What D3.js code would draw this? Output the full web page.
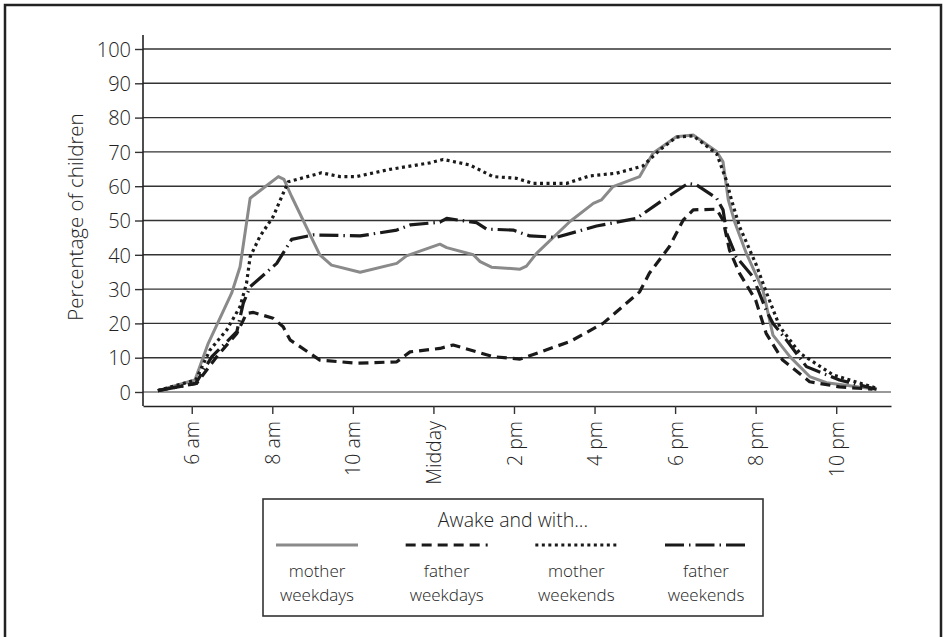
<!DOCTYPE html>
<html>
<head>
<meta charset="utf-8">
<script src="https://cdn.jsdelivr.net/npm/d3@7"></script>
<style>
  body { margin: 0; background: #fff; }
  svg text { font-family: "Open Sans", "Noto Sans", sans-serif; font-weight: 300; fill: #222; }
</style>
</head>
<body>
<svg id="chart" width="943" height="637"></svg>
<script>
// hours of the day (decimal) and % of children
const yTicks = [0, 10, 20, 30, 40, 50, 60, 70, 80, 90, 100];
const xTicks = [6, 8, 10, 12, 14, 16, 18, 20, 22];
const xTickLabels = ["6 am", "8 am", "10 am", "Midday", "2 pm", "4 pm", "6 pm", "8 pm", "10 pm"];

const motherWeekdays = [
  [5.16, 0.4], [6.08, 3.5], [6.41, 14.2], [6.99, 28.8], [7.2, 36.5], [7.45, 56.5],
  [8.15, 62.8], [8.29, 62], [8.48, 57], [9.18, 40], [9.47, 37], [10.18, 34.9],
  [11.09, 37.5], [11.33, 39.7], [12.16, 43.1], [12.33, 42.1], [12.99, 40], [13.16, 38],
  [13.44, 36.4], [14.15, 35.8], [14.31, 36.7], [14.56, 40.4], [15.39, 49.7], [15.97, 55],
  [16.17, 56], [16.46, 59.9], [17.12, 62.8], [17.45, 69.6], [18.03, 74.4], [18.45, 74.9],
  [19.03, 70.1], [19.19, 67.1], [19.32, 56], [19.49, 49.2], [19.77, 40.4], [20.18, 29.7],
  [20.43, 16.6], [20.85, 10.3], [21.34, 4.5], [21.76, 2.7], [23.0, 0.8]
];
const fatherWeekdays = [
  [5.16, 0.4], [6.12, 2.5], [6.62, 10.3], [7.12, 17.1], [7.36, 22.9], [7.53, 23.2],
  [8.02, 21.5], [8.27, 19], [8.44, 15.2], [9.18, 9.3], [10.09, 8.4], [11.09, 8.8],
  [11.42, 11.7], [12.16, 12.7], [12.49, 13.7], [13.48, 10.3], [14.15, 9.6], [15.39, 14.7],
  [16.21, 20], [17.12, 29.2], [17.36, 34.6], [17.86, 42.4], [18.2, 50.1], [18.45, 53.1],
  [19.03, 53.3], [19.19, 50.1], [19.35, 41.4], [19.6, 34.6], [20.0, 26.8], [20.26, 17.1],
  [20.67, 9.3], [21.34, 3], [22.08, 1.5], [22.9, 0.8]
];
const motherWeekends = [
  [5.16, 0.4], [6.1, 3.5], [6.45, 12.2], [6.87, 18.1], [7.2, 24.9], [7.36, 31.7],
  [7.45, 39.4], [7.69, 45.3], [8.02, 51.1], [8.27, 57.9], [8.4, 61.3], [9.22, 63.9],
  [9.68, 62.8], [10.09, 62.8], [10.92, 64.9], [11.91, 66.8], [12.24, 67.8], [12.9, 66.2],
  [13.48, 62.8], [14.06, 62.3], [14.48, 60.8], [15.3, 60.8], [15.88, 63], [16.55, 63.8],
  [17.2, 65.9], [17.62, 70.6], [18.03, 74.3], [18.45, 74.7], [19.03, 69.5], [19.27, 61.8],
  [19.4, 56], [19.6, 48.2], [20.0, 37.5], [20.26, 29.2], [20.6, 19], [21.1, 11.3],
  [21.92, 5], [23.0, 1.1]
];
const fatherWeekends = [
  [5.16, 0.4], [6.1, 2.5], [6.5, 10.3], [7.12, 17.6], [7.28, 25.9], [7.45, 30.7],
  [8.11, 37.5], [8.48, 44.5], [9.02, 45.8], [10.18, 45.5], [11.09, 47.2], [11.42, 48.7],
  [12.16, 49.5], [12.33, 50.6], [13.07, 49.4], [13.32, 47.5], [13.98, 47.2], [14.39, 45.5],
  [15.06, 45.1], [16.05, 48.4], [17.04, 50.6], [17.7, 56], [18.32, 60.8], [18.53, 60.4],
  [19.03, 56.5], [19.19, 53.1], [19.28, 46.3], [19.52, 39.4], [19.93, 33.6], [20.26, 23.9],
  [20.43, 20], [20.76, 15.2], [21.26, 7.4], [22.08, 3.5], [23.0, 0.8]
];

const series = [
  { key: "mw", data: motherWeekdays, label: ["mother", "weekdays"], color: "#8a8a8a", dash: null, width: 3 },
  { key: "fw", data: fatherWeekdays, label: ["father", "weekdays"], color: "#1a1a1a", dash: "10,6", width: 3.2 },
  { key: "mwe", data: motherWeekends, label: ["mother", "weekends"], color: "#1a1a1a", dash: "3,3.5", width: 3.2 },
  { key: "fwe", data: fatherWeekends, label: ["father", "weekends"], color: "#1a1a1a", dash: "19,5,1.5,5", width: 3.2 }
];

const svg = d3.select("#chart");

// outer frame
svg.append("rect")
  .attr("x", 5).attr("y", 5)
  .attr("width", 936).attr("height", 660)
  .attr("fill", "none").attr("stroke", "#222").attr("stroke-width", 2.5);

const x = d3.scaleLinear().domain([4.79, 23.36]).range([143, 891]);
const y = d3.scaleLinear().domain([0, 100]).range([392, 49]);

// gridlines
svg.append("g")
  .selectAll("line")
  .data(yTicks)
  .enter()
  .append("line")
  .attr("x1", 143).attr("x2", 891)
  .attr("y1", d => y(d)).attr("y2", d => y(d))
  .attr("stroke", d => d === 0 ? "#777" : "#333")
  .attr("stroke-width", 1.4);

// y axis
const yAxis = svg.append("g")
  .attr("transform", "translate(143,0)")
  .call(d3.axisLeft(y).tickValues(yTicks).tickSize(8).tickPadding(4));
yAxis.select(".domain").remove();
yAxis.selectAll(".tick line").attr("stroke", "#333").attr("stroke-width", 1.4);
yAxis.selectAll(".tick text").style("font-size", "20px").attr("dy", "0.36em");
svg.append("line")
  .attr("x1", 143).attr("x2", 143).attr("y1", 35).attr("y2", 406)
  .attr("stroke", "#222").attr("stroke-width", 1.6);

// x axis
const xAxis = svg.append("g")
  .attr("transform", "translate(0,406)")
  .call(d3.axisBottom(x).tickValues(xTicks).tickSize(8).tickSizeOuter(0)
    .tickFormat((d, i) => xTickLabels[i]));
xAxis.select(".domain").attr("stroke", "#222").attr("stroke-width", 1.6);
xAxis.selectAll(".tick line").attr("stroke", "#333").attr("stroke-width", 1.4);
xAxis.selectAll(".tick text")
  .style("font-size", "19.5px")
  .attr("text-anchor", "end")
  .attr("transform", "rotate(-90)")
  .attr("x", -15).attr("y", 0).attr("dy", "0.36em");

// y label
svg.append("text")
  .attr("transform", "translate(83,217) rotate(-90)")
  .attr("text-anchor", "middle")
  .style("font-size", "20.5px")
  .text("Percentage of children");

// lines
const line = d3.line()
  .x(d => x(d[0]))
  .y(d => y(d[1]))
  .curve(d3.curveLinear);

svg.append("g")
  .selectAll("path")
  .data(series)
  .enter()
  .append("path")
  .attr("d", d => line(d.data))
  .attr("fill", "none")
  .attr("stroke", d => d.color)
  .attr("stroke-width", d => d.width)
  .attr("stroke-dasharray", d => d.dash)
  .attr("stroke-linejoin", "round");

// legend
const legend = svg.append("g");
legend.append("rect")
  .attr("x", 263).attr("y", 499)
  .attr("width", 500).attr("height", 117)
  .attr("fill", "#fff").attr("stroke", "#333").attr("stroke-width", 1.6);
legend.append("text")
  .attr("x", 513).attr("y", 527)
  .attr("text-anchor", "middle")
  .style("font-size", "19.5px")
  .text("Awake and with...");

const lx = d3.scalePoint().domain(series.map(d => d.key)).range([317, 706]);
const item = legend.selectAll(".item")
  .data(series)
  .enter()
  .append("g")
  .attr("class", "item")
  .attr("transform", d => `translate(${lx(d.key)},0)`);
item.append("line")
  .attr("x1", -41).attr("x2", 41)
  .attr("y1", 545).attr("y2", 545)
  .attr("stroke", d => d.color)
  .attr("stroke-width", d => d.width)
  .attr("stroke-dasharray", d => d.dash);
item.append("text")
  .attr("text-anchor", "middle")
  .attr("y", 577)
  .style("font-size", "17px")
  .text(d => d.label[0]);
item.append("text")
  .attr("text-anchor", "middle")
  .attr("y", 600.5)
  .style("font-size", "17px")
  .text(d => d.label[1]);
</script>
</body>
</html>
